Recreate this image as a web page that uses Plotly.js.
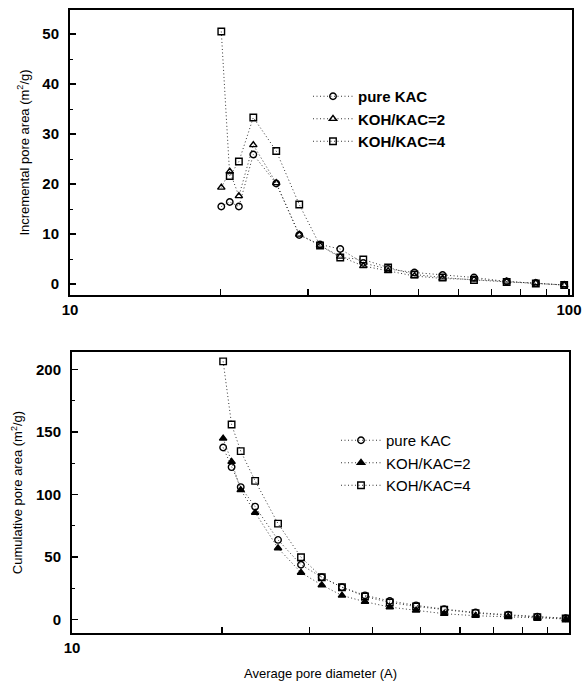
<!DOCTYPE html>
<html>
<head>
<meta charset="utf-8">
<script src="https://cdn.plot.ly/plotly-3.0.1.min.js"></script>
<style>html,body{margin:0;padding:0;background:#fff;}#chart{width:585px;height:688px;}</style>
</head>
<body>
<div id="chart"></div>
<script>
// Average pore diameter (A)
const diameter = [20.1, 20.9, 21.8, 23.3, 25.9, 28.8, 31.7, 34.8, 38.7, 43.4, 49.0, 55.8, 64.5, 75.0, 85.8, 97.8];

// Incremental pore area (m2/g)
const incPure  = [15.5, 16.4, 15.5, 25.9, 20.1, 9.8, 7.9, 7.0, 4.2, 3.0, 2.3, 1.8, 1.3, 0.5, 0.2, -0.2];
const incKoh2  = [19.3, 22.5, 17.6, 27.8, 20.2, 9.9, 7.7, 5.5, 3.6, 2.6, 1.6, 1.1, 0.9, 0.5, 0.2, -0.2];
const incKoh4  = [50.5, 21.6, 24.5, 33.3, 26.6, 15.9, 7.7, 5.3, 4.9, 3.3, 1.9, 1.3, 0.8, 0.4, 0.1, -0.2];

// Cumulative pore area (m2/g)
const cumPure  = [137.7, 122.0, 106.0, 90.4, 63.8, 43.9, 34.0, 26.0, 19.5, 15.0, 11.5, 8.5, 5.8, 4.0, 2.5, 1.2];
const cumKoh2  = [144.9, 126.3, 103.7, 85.6, 57.2, 37.7, 27.7, 19.4, 14.4, 10.1, 7.4, 4.8, 3.2, 2.5, 1.5, 0.6];
const cumKoh4  = [206.5, 156.0, 134.8, 111.0, 76.8, 50.0, 34.0, 26.0, 18.6, 13.8, 10.6, 8.0, 5.3, 3.5, 2.1, 1.0];

const seriesNames = ['pure KAC', 'KOH/KAC=2', 'KOH/KAC=4'];
const xMajorTicks = [10, 100];
const xMinorTicks = [20, 30, 40, 50, 60, 70, 80, 90];

const lineStyle = {color: '#333', width: 1, dash: '1px,2.5px'};
function mk(sym) { return {symbol: sym, size: 6.5, color: '#000', line: {color: '#000', width: 1.4}}; }

const traces = [
  {x: diameter, y: incPure, name: seriesNames[0], mode: 'lines+markers', line: lineStyle, marker: mk('circle-open'), xaxis: 'x', yaxis: 'y', legend: 'legend'},
  {x: diameter, y: incKoh2, name: seriesNames[1], mode: 'lines+markers', line: lineStyle, marker: mk('triangle-up-open'), xaxis: 'x', yaxis: 'y', legend: 'legend'},
  {x: diameter, y: incKoh4, name: seriesNames[2], mode: 'lines+markers', line: lineStyle, marker: mk('square-open'), xaxis: 'x', yaxis: 'y', legend: 'legend'},
  {x: diameter, y: cumPure, name: seriesNames[0], mode: 'lines+markers', line: lineStyle, marker: mk('circle-open'), xaxis: 'x2', yaxis: 'y2', legend: 'legend2'},
  {x: diameter, y: cumKoh2, name: seriesNames[1], mode: 'lines+markers', line: lineStyle, marker: mk('triangle-up'), xaxis: 'x2', yaxis: 'y2', legend: 'legend2'},
  {x: diameter, y: cumKoh4, name: seriesNames[2], mode: 'lines+markers', line: lineStyle, marker: mk('square-open'), xaxis: 'x2', yaxis: 'y2', legend: 'legend2'}
];

const FONT = 'Liberation Sans, Arial, sans-serif';
const tickFont = {family: FONT, size: 15, color: '#000', weight: 'bold'};

function xAxis(domain, range, anchor, withTitle) {
  const a = {
    type: 'log', domain: domain, range: range, anchor: anchor,
    tickmode: 'array', tickvals: xMajorTicks, ticktext: xMajorTicks.map(String),
    ticks: 'inside', ticklen: 6, tickwidth: 1.5, tickcolor: '#000',
    minor: {tickmode: 'array', tickvals: xMinorTicks, ticks: 'inside', ticklen: 6, tickwidth: 1.2, tickcolor: '#000', showgrid: false},
    showline: true, linecolor: '#000', linewidth: 2, mirror: true,
    showgrid: false, zeroline: false, tickfont: tickFont
  };
  if (withTitle) {
    a.title = {text: 'Average pore diameter (A)', font: {family: FONT, size: 13, color: '#000'}, standoff: 14};
  }
  return a;
}
function yAxis(domain, range, anchor, dtick, minorDtick, title) {
  return {
    domain: domain, range: range, anchor: anchor,
    dtick: dtick, tick0: 0,
    ticks: 'inside', ticklen: 6, tickwidth: 1.5, tickcolor: '#000',
    minor: {dtick: minorDtick, ticks: 'inside', ticklen: 3, tickcolor: '#000', tickwidth: 1},
    showline: true, linecolor: '#000', linewidth: 2, mirror: true,
    showgrid: false, zeroline: false, tickfont: tickFont,
    ticklabelstandoff: 6,
    title: {text: title, font: {family: FONT, size: 13, color: '#000'}, standoff: 10}
  };
}

const W = 585, H = 688;
const layout = {
  width: W, height: H,
  margin: {l: 0, r: 0, t: 0, b: 0},
  paper_bgcolor: '#fff', plot_bgcolor: '#fff',
  showlegend: true,
  xaxis: xAxis([70 / W, 572 / W], [1, 2.006], 'y', false),
  yaxis: yAxis([1 - 295 / H, 1 - 10 / H], [-2.2, 54.8], 'x', 10, 5, 'Incremental pore area (m<sup>2</sup>/g)'),
  xaxis2: xAxis([72 / W, 569 / W], [1.0, 1.997], 'y2', true),
  yaxis2: yAxis([1 - 633 / H, 1 - 352 / H], [-10.6, 214], 'x2', 50, 25, 'Cumulative pore area (m<sup>2</sup>/g)'),
  legend: {
    x: 308 / W, y: 1 - 80 / H, xanchor: 'left', yanchor: 'top',
    bgcolor: 'rgba(0,0,0,0)', borderwidth: 0,
    font: {family: FONT, size: 15, color: '#000', weight: 'bold'},
    tracegroupgap: 0, itemwidth: 40
  },
  legend2: {
    x: 336 / W, y: 1 - 424 / H, xanchor: 'left', yanchor: 'top',
    bgcolor: 'rgba(0,0,0,0)', borderwidth: 0,
    font: {family: FONT, size: 15, color: '#000'},
    tracegroupgap: 0, itemwidth: 40
  }
};

Plotly.newPlot('chart', traces, layout, {displayModeBar: false, staticPlot: true});
</script>
</body>
</html>
